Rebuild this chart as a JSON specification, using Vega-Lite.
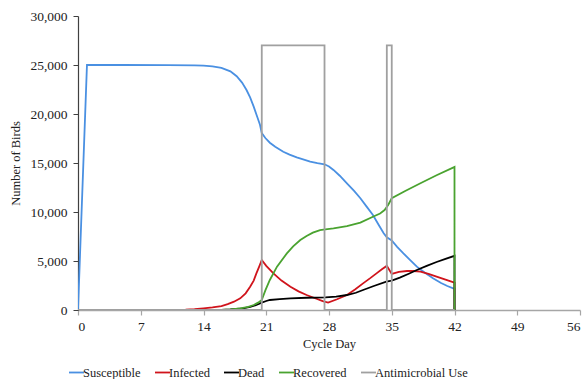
{
  "$schema": "https://vega.github.io/schema/vega-lite/v6.json",
  "width": 502,
  "height": 294,
  "autosize": "none",
  "padding": {"left": 78, "top": 16, "right": 6, "bottom": 69},
  "background": "white",
  "config": {
    "view": {"stroke": null},
    "font": "Liberation Serif, Times New Roman, serif"
  },
  "data": {
    "values": [
      {"s": "Susceptible", "i": 0, "d": 0, "v": 0},
      {"s": "Susceptible", "i": 1, "d": 1, "v": 25000},
      {"s": "Susceptible", "i": 2, "d": 5, "v": 25000},
      {"s": "Susceptible", "i": 3, "d": 10, "v": 24990},
      {"s": "Susceptible", "i": 4, "d": 13, "v": 24960},
      {"s": "Susceptible", "i": 5, "d": 14, "v": 24930},
      {"s": "Susceptible", "i": 6, "d": 15, "v": 24850},
      {"s": "Susceptible", "i": 7, "d": 16, "v": 24700},
      {"s": "Susceptible", "i": 8, "d": 17, "v": 24350},
      {"s": "Susceptible", "i": 9, "d": 17.7, "v": 23850},
      {"s": "Susceptible", "i": 10, "d": 18.3, "v": 23200},
      {"s": "Susceptible", "i": 11, "d": 18.8, "v": 22450},
      {"s": "Susceptible", "i": 12, "d": 19.2, "v": 21700},
      {"s": "Susceptible", "i": 13, "d": 19.6, "v": 20750},
      {"s": "Susceptible", "i": 14, "d": 20.0, "v": 19700},
      {"s": "Susceptible", "i": 15, "d": 20.3, "v": 18900},
      {"s": "Susceptible", "i": 16, "d": 20.5, "v": 18050},
      {"s": "Susceptible", "i": 17, "d": 20.9, "v": 17550},
      {"s": "Susceptible", "i": 18, "d": 21.4, "v": 17070},
      {"s": "Susceptible", "i": 19, "d": 22.0, "v": 16650},
      {"s": "Susceptible", "i": 20, "d": 22.9, "v": 16150},
      {"s": "Susceptible", "i": 21, "d": 23.6, "v": 15850},
      {"s": "Susceptible", "i": 22, "d": 24.4, "v": 15580},
      {"s": "Susceptible", "i": 23, "d": 25.2, "v": 15350},
      {"s": "Susceptible", "i": 24, "d": 25.9, "v": 15140},
      {"s": "Susceptible", "i": 25, "d": 26.7, "v": 14990},
      {"s": "Susceptible", "i": 26, "d": 27.5, "v": 14870},
      {"s": "Susceptible", "i": 27, "d": 28.0, "v": 14650},
      {"s": "Susceptible", "i": 28, "d": 28.5, "v": 14290},
      {"s": "Susceptible", "i": 29, "d": 29.2, "v": 13700},
      {"s": "Susceptible", "i": 30, "d": 30.0, "v": 12930},
      {"s": "Susceptible", "i": 31, "d": 30.8, "v": 12150},
      {"s": "Susceptible", "i": 32, "d": 31.5, "v": 11400},
      {"s": "Susceptible", "i": 33, "d": 32.2, "v": 10550},
      {"s": "Susceptible", "i": 34, "d": 32.9, "v": 9700},
      {"s": "Susceptible", "i": 35, "d": 33.5, "v": 8750},
      {"s": "Susceptible", "i": 36, "d": 34.1, "v": 7830},
      {"s": "Susceptible", "i": 37, "d": 34.45, "v": 7420},
      {"s": "Susceptible", "i": 38, "d": 35.0, "v": 7100},
      {"s": "Susceptible", "i": 39, "d": 35.6, "v": 6450},
      {"s": "Susceptible", "i": 40, "d": 36.3, "v": 5780},
      {"s": "Susceptible", "i": 41, "d": 37.0, "v": 5150},
      {"s": "Susceptible", "i": 42, "d": 37.8, "v": 4420},
      {"s": "Susceptible", "i": 43, "d": 38.7, "v": 3800},
      {"s": "Susceptible", "i": 44, "d": 39.6, "v": 3230},
      {"s": "Susceptible", "i": 45, "d": 40.5, "v": 2750},
      {"s": "Susceptible", "i": 46, "d": 41.2, "v": 2450},
      {"s": "Susceptible", "i": 47, "d": 42.0, "v": 2150},
      {"s": "Susceptible", "i": 48, "d": 42.0, "v": 0},

      {"s": "Infected", "i": 0, "d": 0, "v": 0},
      {"s": "Infected", "i": 1, "d": 10, "v": 10},
      {"s": "Infected", "i": 2, "d": 12, "v": 40},
      {"s": "Infected", "i": 3, "d": 13, "v": 90},
      {"s": "Infected", "i": 4, "d": 14, "v": 170},
      {"s": "Infected", "i": 5, "d": 15, "v": 270},
      {"s": "Infected", "i": 6, "d": 16, "v": 400},
      {"s": "Infected", "i": 7, "d": 16.7, "v": 600},
      {"s": "Infected", "i": 8, "d": 17.4, "v": 850},
      {"s": "Infected", "i": 9, "d": 18.1, "v": 1190},
      {"s": "Infected", "i": 10, "d": 18.7, "v": 1700},
      {"s": "Infected", "i": 11, "d": 19.2, "v": 2380},
      {"s": "Infected", "i": 12, "d": 19.6, "v": 3000},
      {"s": "Infected", "i": 13, "d": 19.9, "v": 3740},
      {"s": "Infected", "i": 14, "d": 20.2, "v": 4400},
      {"s": "Infected", "i": 15, "d": 20.5, "v": 5100},
      {"s": "Infected", "i": 16, "d": 21.0, "v": 4500},
      {"s": "Infected", "i": 17, "d": 21.8, "v": 3740},
      {"s": "Infected", "i": 18, "d": 22.7, "v": 3000},
      {"s": "Infected", "i": 19, "d": 23.7, "v": 2380},
      {"s": "Infected", "i": 20, "d": 24.6, "v": 1900},
      {"s": "Infected", "i": 21, "d": 25.5, "v": 1530},
      {"s": "Infected", "i": 22, "d": 26.6, "v": 1150},
      {"s": "Infected", "i": 23, "d": 27.3, "v": 900},
      {"s": "Infected", "i": 24, "d": 27.9, "v": 750},
      {"s": "Infected", "i": 25, "d": 28.9, "v": 1100},
      {"s": "Infected", "i": 26, "d": 30.0, "v": 1530},
      {"s": "Infected", "i": 27, "d": 30.9, "v": 2100},
      {"s": "Infected", "i": 28, "d": 31.8, "v": 2720},
      {"s": "Infected", "i": 29, "d": 32.6, "v": 3250},
      {"s": "Infected", "i": 30, "d": 33.3, "v": 3740},
      {"s": "Infected", "i": 31, "d": 33.9, "v": 4150},
      {"s": "Infected", "i": 32, "d": 34.45, "v": 4500},
      {"s": "Infected", "i": 33, "d": 35.0, "v": 3680},
      {"s": "Infected", "i": 34, "d": 35.8, "v": 3900},
      {"s": "Infected", "i": 35, "d": 36.7, "v": 3980},
      {"s": "Infected", "i": 36, "d": 37.4, "v": 3980},
      {"s": "Infected", "i": 37, "d": 38.2, "v": 3910},
      {"s": "Infected", "i": 38, "d": 39.1, "v": 3680},
      {"s": "Infected", "i": 39, "d": 40.0, "v": 3400},
      {"s": "Infected", "i": 40, "d": 41.0, "v": 3100},
      {"s": "Infected", "i": 41, "d": 42.0, "v": 2800},
      {"s": "Infected", "i": 42, "d": 42.0, "v": 0},

      {"s": "Dead", "i": 0, "d": 0, "v": 0},
      {"s": "Dead", "i": 1, "d": 16, "v": 10},
      {"s": "Dead", "i": 2, "d": 17, "v": 50},
      {"s": "Dead", "i": 3, "d": 18, "v": 130},
      {"s": "Dead", "i": 4, "d": 18.4, "v": 170},
      {"s": "Dead", "i": 5, "d": 19.2, "v": 320},
      {"s": "Dead", "i": 6, "d": 19.9, "v": 510},
      {"s": "Dead", "i": 7, "d": 20.5, "v": 750},
      {"s": "Dead", "i": 8, "d": 21.0, "v": 920},
      {"s": "Dead", "i": 9, "d": 21.4, "v": 1020},
      {"s": "Dead", "i": 10, "d": 22.5, "v": 1120},
      {"s": "Dead", "i": 11, "d": 23.7, "v": 1190},
      {"s": "Dead", "i": 12, "d": 25.5, "v": 1250},
      {"s": "Dead", "i": 13, "d": 27.6, "v": 1290},
      {"s": "Dead", "i": 14, "d": 28.8, "v": 1360},
      {"s": "Dead", "i": 15, "d": 30.0, "v": 1530},
      {"s": "Dead", "i": 16, "d": 31.0, "v": 1760},
      {"s": "Dead", "i": 17, "d": 31.8, "v": 2040},
      {"s": "Dead", "i": 18, "d": 33.0, "v": 2450},
      {"s": "Dead", "i": 19, "d": 34.4, "v": 2890},
      {"s": "Dead", "i": 20, "d": 35.0, "v": 3000},
      {"s": "Dead", "i": 21, "d": 35.9, "v": 3300},
      {"s": "Dead", "i": 22, "d": 36.9, "v": 3700},
      {"s": "Dead", "i": 23, "d": 37.8, "v": 4080},
      {"s": "Dead", "i": 24, "d": 38.9, "v": 4500},
      {"s": "Dead", "i": 25, "d": 40.0, "v": 4900},
      {"s": "Dead", "i": 26, "d": 41.0, "v": 5220},
      {"s": "Dead", "i": 27, "d": 42.0, "v": 5530},
      {"s": "Dead", "i": 28, "d": 42.0, "v": 0},

      {"s": "Recovered", "i": 0, "d": 0, "v": 0},
      {"s": "Recovered", "i": 1, "d": 16, "v": 10},
      {"s": "Recovered", "i": 2, "d": 17, "v": 60},
      {"s": "Recovered", "i": 3, "d": 18.1, "v": 170},
      {"s": "Recovered", "i": 4, "d": 19.0, "v": 330},
      {"s": "Recovered", "i": 5, "d": 19.6, "v": 510},
      {"s": "Recovered", "i": 6, "d": 20.1, "v": 750},
      {"s": "Recovered", "i": 7, "d": 20.5, "v": 1020},
      {"s": "Recovered", "i": 8, "d": 20.9, "v": 2000},
      {"s": "Recovered", "i": 9, "d": 21.4, "v": 3060},
      {"s": "Recovered", "i": 10, "d": 22.2, "v": 4420},
      {"s": "Recovered", "i": 11, "d": 23.3, "v": 5780},
      {"s": "Recovered", "i": 12, "d": 24.0, "v": 6500},
      {"s": "Recovered", "i": 13, "d": 24.8, "v": 7140},
      {"s": "Recovered", "i": 14, "d": 25.5, "v": 7550},
      {"s": "Recovered", "i": 15, "d": 26.2, "v": 7890},
      {"s": "Recovered", "i": 16, "d": 27.0, "v": 8160},
      {"s": "Recovered", "i": 17, "d": 27.6, "v": 8230},
      {"s": "Recovered", "i": 18, "d": 28.5, "v": 8330},
      {"s": "Recovered", "i": 19, "d": 30.0, "v": 8570},
      {"s": "Recovered", "i": 20, "d": 31.5, "v": 8910},
      {"s": "Recovered", "i": 21, "d": 32.9, "v": 9520},
      {"s": "Recovered", "i": 22, "d": 33.7, "v": 9850},
      {"s": "Recovered", "i": 23, "d": 34.2, "v": 10200},
      {"s": "Recovered", "i": 24, "d": 34.6, "v": 10710},
      {"s": "Recovered", "i": 25, "d": 35.0, "v": 11400},
      {"s": "Recovered", "i": 26, "d": 36.5, "v": 12150},
      {"s": "Recovered", "i": 27, "d": 38.2, "v": 12930},
      {"s": "Recovered", "i": 28, "d": 40.0, "v": 13750},
      {"s": "Recovered", "i": 29, "d": 41.9, "v": 14560},
      {"s": "Recovered", "i": 30, "d": 42.0, "v": 14600},
      {"s": "Recovered", "i": 31, "d": 42.0, "v": 0},

      {"s": "Antimicrobial Use", "i": 0, "d": 0, "v": 0},
      {"s": "Antimicrobial Use", "i": 1, "d": 20.5, "v": 0},
      {"s": "Antimicrobial Use", "i": 2, "d": 20.5, "v": 27000},
      {"s": "Antimicrobial Use", "i": 3, "d": 27.5, "v": 27000},
      {"s": "Antimicrobial Use", "i": 4, "d": 27.5, "v": 0},
      {"s": "Antimicrobial Use", "i": 5, "d": 34.45, "v": 0},
      {"s": "Antimicrobial Use", "i": 6, "d": 34.45, "v": 27000},
      {"s": "Antimicrobial Use", "i": 7, "d": 35.0, "v": 27000},
      {"s": "Antimicrobial Use", "i": 8, "d": 35.0, "v": 0},
      {"s": "Antimicrobial Use", "i": 9, "d": 42.0, "v": 0}
    ]
  },
  "mark": {"type": "line", "strokeWidth": 1.8, "clip": true},
  "encoding": {
    "x": {
      "field": "d",
      "type": "quantitative",
      "scale": {"domain": [0, 56], "nice": false, "zero": false},
      "axis": {
        "values": [0, 7, 14, 21, 28, 35, 42, 49, 56],
        "title": "Cycle Day",
        "grid": false,
        "domainColor": "#a6a6a6",
        "domainWidth": 1.5,
        "tickColor": "#a6a6a6",
        "tickSize": 5,
        "tickWidth": 1.2,
        "labelFont": "Liberation Serif, Times New Roman, serif",
        "labelFontSize": 13.5,
        "labelColor": "#222222",
        "labelPadding": 4,
        "titleFont": "Liberation Serif, Times New Roman, serif",
        "titleFontSize": 12.5,
        "titleFontWeight": "normal",
        "titleColor": "#222222",
        "titlePadding": 5
      }
    },
    "y": {
      "field": "v",
      "type": "quantitative",
      "scale": {"domain": [0, 30000], "nice": false},
      "axis": {
        "values": [0, 5000, 10000, 15000, 20000, 25000, 30000],
        "format": ",.0f",
        "title": "Number of Birds",
        "grid": false,
        "domainColor": "#404040",
        "domainWidth": 1.2,
        "tickColor": "#404040",
        "tickSize": 5,
        "labelFont": "Liberation Serif, Times New Roman, serif",
        "labelFontSize": 13.5,
        "labelColor": "#222222",
        "labelPadding": 6,
        "titleFont": "Liberation Serif, Times New Roman, serif",
        "titleFontSize": 12.5,
        "titleFontWeight": "normal",
        "titleColor": "#222222",
        "titlePadding": 7
      }
    },
    "color": {
      "field": "s",
      "type": "nominal",
      "sort": null,
      "scale": {
        "domain": ["Susceptible", "Infected", "Dead", "Recovered", "Antimicrobial Use"],
        "range": ["#4a90e2", "#d0141c", "#000000", "#4aa330", "#a0a0a0"]
      },
      "legend": {
        "title": null,
        "orient": "none",
        "direction": "horizontal",
        "legendX": -10,
        "legendY": 348,
        "symbolType": "stroke",
        "symbolSize": 225,
        "symbolStrokeWidth": 1.8,
        "labelFont": "Liberation Serif, Times New Roman, serif",
        "labelFontSize": 12.5,
        "labelColor": "#222222",
        "labelOffset": -2,
        "columnPadding": 10
      }
    },
    "order": {"field": "i", "type": "quantitative"}
  }
}
